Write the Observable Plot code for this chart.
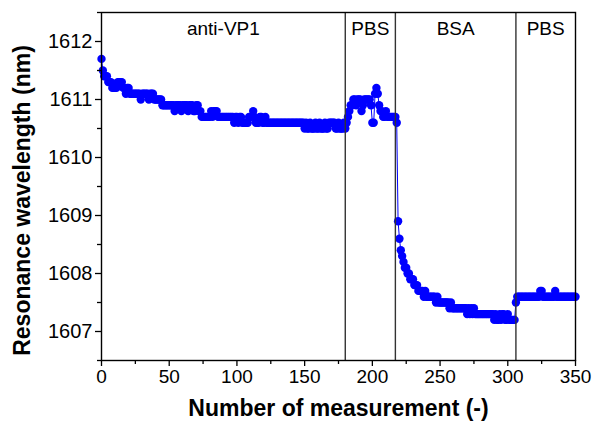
<!DOCTYPE html>
<html>
<head>
<meta charset="utf-8">
<script src="https://cdn.jsdelivr.net/npm/d3@7"></script>
<script src="https://cdn.jsdelivr.net/npm/@observablehq/plot@0.6"></script>
<style>
  html, body { margin: 0; padding: 0; background: #fff; }
  #chart { width: 593px; height: 431px; }
</style>
</head>
<body>
<div id="chart"></div>
<script>
// Resonance wavelength (nm) per measurement, by phase
const antiVP1Start = 0;
const antiVP1Values = [
  1611.7, 1611.5, 1611.4, 1611.4, 1611.4, 1611.3, 1611.3, 1611.3, 1611.2, 1611.2,
  1611.2, 1611.2, 1611.3, 1611.3, 1611.3, 1611.3, 1611.2, 1611.2, 1611.1, 1611.2,
  1611.2, 1611.1, 1611.1, 1611.1, 1611.1, 1611.1, 1611.1, 1611.1, 1611.1, 1611.0,
  1611.1, 1611.1, 1611.1, 1611.1, 1611.1, 1611.0, 1611.1, 1611.1, 1611.1, 1611.0,
  1611.0, 1611.0, 1611.0, 1611.0, 1611.0, 1610.9, 1610.9, 1610.9, 1610.9, 1610.9,
  1610.9, 1610.9, 1610.9, 1610.9, 1610.8, 1610.9, 1610.9, 1610.9, 1610.9, 1610.8,
  1610.9, 1610.9, 1610.9, 1610.9, 1610.8, 1610.9, 1610.9, 1610.9, 1610.8, 1610.8,
  1610.9, 1610.9, 1610.8, 1610.8, 1610.7, 1610.7, 1610.7, 1610.7, 1610.7, 1610.7,
  1610.7, 1610.8, 1610.7, 1610.8, 1610.8, 1610.8, 1610.7, 1610.7, 1610.7, 1610.7,
  1610.7, 1610.7, 1610.7, 1610.7, 1610.7, 1610.7, 1610.7, 1610.7, 1610.6, 1610.7,
  1610.7, 1610.6, 1610.7, 1610.7, 1610.6, 1610.6, 1610.6, 1610.6, 1610.6, 1610.7,
  1610.7, 1610.7, 1610.8, 1610.7, 1610.6, 1610.6, 1610.6, 1610.7, 1610.7, 1610.6,
  1610.6, 1610.7, 1610.6, 1610.6, 1610.6, 1610.6, 1610.6, 1610.6, 1610.6, 1610.6,
  1610.6, 1610.6, 1610.6, 1610.6, 1610.6, 1610.6, 1610.6, 1610.6, 1610.6, 1610.6,
  1610.6, 1610.6, 1610.6, 1610.6, 1610.6, 1610.6, 1610.6, 1610.6, 1610.6, 1610.6,
  1610.5, 1610.6, 1610.5, 1610.5, 1610.6, 1610.5, 1610.5, 1610.5, 1610.6, 1610.5,
  1610.5, 1610.6, 1610.5, 1610.5, 1610.5, 1610.6, 1610.5, 1610.5, 1610.6, 1610.6,
  1610.6, 1610.6, 1610.6, 1610.5, 1610.5, 1610.6, 1610.5, 1610.5, 1610.5, 1610.6,
  1610.5
];
const pbs1Start = 181;
const pbs1Values = [
  1610.6, 1610.7, 1610.8, 1610.9, 1610.9, 1611.0, 1611.0, 1610.9, 1611.0, 1611.0,
  1611.0, 1610.8, 1610.9, 1611.0, 1611.0, 1611.0, 1611.0, 1611.0, 1610.9, 1610.6,
  1610.6, 1611.1, 1611.2, 1611.1, 1610.9, 1610.8, 1610.8, 1610.7, 1610.7, 1610.8,
  1610.7, 1610.7, 1610.7, 1610.7, 1610.7, 1610.7, 1610.7, 1610.6
];
const bsaStart = 219;
const bsaValues = [
  1608.9, 1608.6, 1608.4, 1608.3, 1608.2, 1608.1, 1608.1, 1608.0, 1608.0, 1607.9,
  1607.9, 1607.9, 1607.8, 1607.8, 1607.8, 1607.7, 1607.7, 1607.7, 1607.7, 1607.6,
  1607.7, 1607.6, 1607.6, 1607.6, 1607.6, 1607.6, 1607.6, 1607.6, 1607.5, 1607.6,
  1607.5, 1607.5, 1607.5, 1607.5, 1607.5, 1607.5, 1607.5, 1607.5, 1607.4, 1607.5,
  1607.4, 1607.4, 1607.4, 1607.4, 1607.4, 1607.4, 1607.4, 1607.4, 1607.4, 1607.4,
  1607.4, 1607.3, 1607.4, 1607.3, 1607.4, 1607.3, 1607.4, 1607.3, 1607.3, 1607.3,
  1607.3, 1607.3, 1607.3, 1607.3, 1607.3, 1607.3, 1607.3, 1607.3, 1607.3, 1607.3,
  1607.3, 1607.2, 1607.3, 1607.2, 1607.2, 1607.3, 1607.2, 1607.3, 1607.3, 1607.2,
  1607.2, 1607.3, 1607.2, 1607.2, 1607.2, 1607.2, 1607.2
];
const pbs2Start = 306;
const pbs2Values = [
  1607.5, 1607.6, 1607.6, 1607.6, 1607.6, 1607.6, 1607.6, 1607.6, 1607.6, 1607.6,
  1607.6, 1607.6, 1607.6, 1607.6, 1607.6, 1607.6, 1607.6, 1607.6, 1607.7, 1607.7,
  1607.6, 1607.6, 1607.6, 1607.6, 1607.6, 1607.6, 1607.6, 1607.6, 1607.6, 1607.7,
  1607.6, 1607.6, 1607.6, 1607.6, 1607.6, 1607.6, 1607.6, 1607.6, 1607.6, 1607.6,
  1607.6, 1607.6, 1607.6, 1607.6, 1607.6
];

// Phase boundaries and labels
const dividers = [180, 217, 306];
const phaseNames = ["anti-VP1", "PBS", "BSA", "PBS"];
const phaseMids = [90, 198.5, 261.5, 328];

// Axes
const xTicks = [0, 50, 100, 150, 200, 250, 300, 350];
const xMinorTicks = [25, 75, 125, 175, 225, 275, 325];
const yTicks = [1607, 1608, 1609, 1610, 1611, 1612];
const yMinorTicks = [1606.5, 1607.5, 1608.5, 1609.5, 1610.5, 1611.5, 1612.5];
const xLabel = "Number of measurement (-)";
const yLabel = "Resonance wavelength (nm)";

const segments = [
  [antiVP1Start, antiVP1Values],
  [pbs1Start, pbs1Values],
  [bsaStart, bsaValues],
  [pbs2Start, pbs2Values]
];
const data = segments.flatMap(([s, vals]) => vals.map((v, i) => ({m: s + i, w: v})));
const phases = phaseNames.map((name, i) => ({name, mid: phaseMids[i]}));

const blue = "#0000ff";
const chart = Plot.plot({
  width: 593,
  height: 431,
  marginLeft: 101,
  marginRight: 18,
  marginTop: 12,
  marginBottom: 71,
  style: {fontFamily: "'Liberation Sans', Arial, sans-serif", fontSize: "19px", color: "#000", background: "#fff"},
  x: {domain: [0, 350]},
  y: {domain: [1606.5, 1612.5]},
  marks: [
    Plot.line(data, {x: "m", y: "w", stroke: blue, strokeWidth: 1}),
    Plot.dot(data, {x: "m", y: "w", r: 4.2, fill: blue, stroke: "none"}),
    Plot.ruleX(dividers, {stroke: "#333", strokeWidth: 1.4}),
    Plot.text(phases, {x: "mid", text: "name", frameAnchor: "top", dy: 9, fontSize: 19, fill: "#000"}),
    Plot.frame({stroke: "#000", strokeWidth: 1.4}),
    Plot.axisX({ticks: xTicks, tickSize: 6, tickPadding: 3, tickFormat: "d", label: null, fontSize: 19, strokeWidth: 1.3}),
    Plot.axisX({ticks: xMinorTicks, tickSize: 4, text: null, label: null, strokeWidth: 1.3}),
    Plot.axisY({ticks: yTicks, tickSize: 6, tickPadding: 3, tickFormat: "d", label: null, fontSize: 20, strokeWidth: 1.3}),
    Plot.axisY({ticks: yMinorTicks, tickSize: 4, text: null, label: null, strokeWidth: 1.3}),
    Plot.text([xLabel], {frameAnchor: "bottom", dy: 55, fontSize: 23, fontWeight: "bold", fill: "#000"}),
    Plot.text([yLabel], {frameAnchor: "left", textAnchor: "middle", dx: -79, dy: 14, rotate: -90, fontSize: 23, fontWeight: "bold", fill: "#000"})
  ]
});
document.getElementById("chart").appendChild(chart);
</script>
</body>
</html>
